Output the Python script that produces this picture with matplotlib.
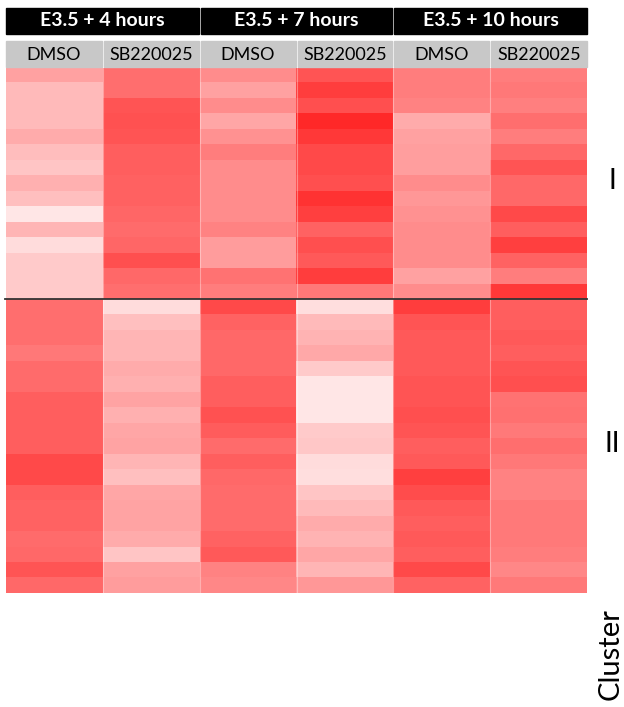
import numpy as np
import matplotlib.pyplot as plt
from matplotlib.colors import LinearSegmentedColormap
from matplotlib.patches import Rectangle

plt.rcParams['font.family'] = ['Lato', 'DejaVu Sans']

time_points = ["E3.5 + 4 hours", "E3.5 + 7 hours", "E3.5 + 10 hours"]
treatments = ["DMSO", "SB220025", "DMSO", "SB220025", "DMSO", "SB220025"]
cluster_labels = ["I", "II"]

# relative expression per gene row (0 = white, 1 = full red), columns follow `treatments`
dmso_4h = [0.37, 0.27, 0.27, 0.27, 0.33, 0.26, 0.23, 0.31, 0.25, 0.10, 0.29, 0.14, 0.21, 0.21, 0.21,
           0.57, 0.57, 0.57, 0.53, 0.58, 0.58, 0.63, 0.63, 0.63, 0.63, 0.71, 0.71, 0.63, 0.61, 0.61,
           0.58, 0.59, 0.67, 0.59]
sb_4h = [0.57, 0.57, 0.67, 0.68, 0.67, 0.63, 0.63, 0.62, 0.62, 0.60, 0.58, 0.60, 0.69, 0.59, 0.57,
         0.14, 0.25, 0.29, 0.29, 0.33, 0.31, 0.36, 0.31, 0.35, 0.36, 0.29, 0.25, 0.35, 0.36, 0.36,
         0.33, 0.23, 0.37, 0.39]
dmso_7h = [0.45, 0.37, 0.45, 0.35, 0.43, 0.51, 0.45, 0.45, 0.45, 0.45, 0.49, 0.39, 0.39, 0.55, 0.51,
           0.71, 0.61, 0.59, 0.59, 0.59, 0.63, 0.63, 0.68, 0.64, 0.58, 0.63, 0.59, 0.58, 0.58, 0.58,
           0.61, 0.65, 0.49, 0.47]
sb_7h = [0.67, 0.76, 0.69, 0.84, 0.78, 0.71, 0.71, 0.69, 0.80, 0.75, 0.61, 0.69, 0.65, 0.76, 0.53,
         0.13, 0.27, 0.30, 0.34, 0.21, 0.10, 0.10, 0.10, 0.21, 0.22, 0.14, 0.13, 0.23, 0.27, 0.33,
         0.30, 0.35, 0.29, 0.41]
dmso_10h = [0.51, 0.51, 0.49, 0.33, 0.37, 0.38, 0.38, 0.45, 0.41, 0.43, 0.45, 0.45, 0.45, 0.37, 0.45,
            0.76, 0.67, 0.65, 0.65, 0.65, 0.67, 0.67, 0.69, 0.67, 0.63, 0.65, 0.75, 0.70, 0.65, 0.63,
            0.65, 0.63, 0.71, 0.61]
sb_10h = [0.51, 0.53, 0.50, 0.57, 0.51, 0.59, 0.67, 0.59, 0.59, 0.71, 0.63, 0.75, 0.61, 0.51, 0.78,
          0.63, 0.63, 0.65, 0.63, 0.67, 0.69, 0.55, 0.56, 0.52, 0.57, 0.53, 0.49, 0.49, 0.52, 0.52,
          0.52, 0.51, 0.47, 0.52]
cluster_sizes = [15, 19]

data = np.column_stack([dmso_4h, sb_4h, dmso_7h, sb_7h, dmso_10h, sb_10h])
n_rows, n_cols = data.shape

W, H = 624, 707
fig = plt.figure(figsize=(W / 100, H / 100), dpi=100)


def px(x0, y0, x1, y1):
    """pixel box (top-left origin) -> figure fraction rect"""
    return [x0 / W, 1 - y1 / H, (x1 - x0) / W, (y1 - y0) / H]


cmap = LinearSegmentedColormap.from_list("white_red", ["#ffffff", "#ff0000"])

left, right, top, bottom = 6, 587, 67.5, 593
ax = fig.add_axes(px(left, top, right, bottom))
ax.imshow(data, cmap=cmap, vmin=0, vmax=1, aspect="auto", interpolation="nearest",
          extent=(0, n_cols, n_rows, 0))
for c in range(1, n_cols):
    ax.axvline(c, color="white", lw=0.8, alpha=0.35)
ax.set_xlim(0, n_cols)
ax.set_ylim(n_rows, 0)
ax.axis("off")

# separator between clusters
split = cluster_sizes[0]
ax.plot([-0.01, n_cols], [split, split], color="#333333", lw=1.3, clip_on=False)

# header boxes
col_w = (right - left) / n_cols
hdr = fig.add_axes([0, 0, 1, 1], facecolor="none")
hdr.set_xlim(0, W)
hdr.set_ylim(H, 0)
hdr.axis("off")
for i, label in enumerate(time_points):
    x0 = left + 2 * i * col_w + (1 if i else 0)
    x1 = left + 2 * (i + 1) * col_w - (1 if i < 2 else 0)
    hdr.add_patch(Rectangle((x0, 8), x1 - x0, 25.5, color="black"))
    hdr.text((x0 + x1) / 2, 21, label, color="white", fontsize=14, fontweight="bold",
             ha="center", va="center")
for j, label in enumerate(treatments):
    x0 = left + j * col_w + (1 if j else 0)
    x1 = left + (j + 1) * col_w - (1 if j < n_cols - 1 else 0)
    hdr.add_patch(Rectangle((x0, 41), x1 - x0, 26, color="#c8c8c8"))
    hdr.text((x0 + x1) / 2, 54.5, label, color="black", fontsize=13, ha="center", va="center")

# cluster labels on the right
row_h = (bottom - top) / n_rows
start = 0
for name, size in zip(cluster_labels, cluster_sizes):
    mid = top + (start + size / 2) * row_h
    hdr.text(612, mid - 2, name, fontsize=20, ha="center", va="center")
    start += size
hdr.text(611, 654, "Cluster", fontsize=21, rotation=90, ha="center", va="center")

fig.savefig("out.png", dpi=100)
